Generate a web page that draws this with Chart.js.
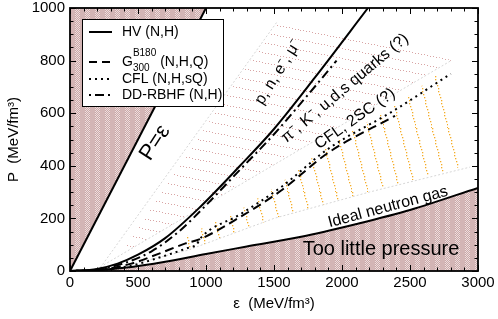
<!doctype html>
<html lang="en">
<head>
<meta charset="utf-8">
<title>EoS</title>
<script src="https://cdn.jsdelivr.net/npm/chart.js"></script>
<style>
  html, body { margin: 0; padding: 0; background: #fff; }
  #eos { display: block; }
</style>
</head>
<body>
<canvas id="eos" width="498" height="319"></canvas>
<script>
// energy density eps and pressure P, both in MeV/fm^3
const hvE  = [0, 200, 350, 500, 700, 950, 1250, 1500, 1800, 2191];
const hvP  = [0, 8, 28, 62, 125, 240, 400, 540, 735, 1000];
const gE   = [0, 250, 450, 650, 850, 950, 1250, 1550, 1900, 2390];
const gP   = [0, 7, 28, 65, 105, 120, 205, 305, 450, 590];
const cflE = [0, 250, 450, 650, 880, 930, 960, 1250, 1550, 1900, 2375, 2800];
const cflP = [0, 5, 20, 50, 90, 100, 125, 215, 318, 465, 608, 750];
const ddE  = [0, 200, 400, 600, 800, 1000, 1250, 1500, 1750, 1960];
const ddP  = [0, 6, 30, 75, 150, 250, 385, 520, 670, 800];
const gasE = [0, 200, 400, 700, 1000, 1300, 1700, 2100, 2500, 3000];
const gasP = [0, 3, 12, 35, 65, 93, 130, 178, 232, 316];
const causalE = [0, 1000];
const causalP = [0, 1000];

// shaded bands (hadrons / quark matter) and their faint guide lines
const hadronE = [346, 1522, 2809, 346];
const hadronP = [53, 947, 802, 53];
const quarkE = [860, 1250, 1550, 1900, 2375, 2735, 2900, 2200, 1500, 860, 860];
const quarkP = [135, 232, 335, 480, 625, 760, 400, 300, 200, 78, 135];
const guideLeftE = [205, 1522],  guideLeftP = [0, 947];
const guideMidE  = [172, 2809],  guideMidP  = [0, 802];
const guideLowE  = [250, 860, 1500, 2200, 2941], guideLowP = [0, 78, 200, 300, 395];

// annotations
const noteText = ['P=ε', 'p, n, e⁻, μ⁻', 'π⁻, K⁻, u,d,s quarks (?)', 'CFL, 2SC (?)', 'Ideal neutron gas', 'Too little pressure'];
const noteE = [625, 1530, 2022, 2096, 2338, 2287];
const noteP = [487, 755, 695, 578, 243, 80];

const FONT = '"Liberation Sans", Arial, Helvetica, sans-serif';
const noteStyle = [
  {size: 22, rot: -57}, {size: 16, rot: -58}, {size: 16, rot: -40},
  {size: 16, rot: -35}, {size: 16, rot: -15}, {size: 20, rot: 0}
];

const canvas = document.getElementById('eos');
const ctx0 = canvas.getContext('2d');

function makeTile(w, h, draw) {
  const c = document.createElement('canvas');
  c.width = w; c.height = h;
  draw(c.getContext('2d'));
  return ctx0.createPattern(c, 'repeat');
}

// checkered rose stripes for the excluded regions
const checker = makeTile(10, 2, g => {
  for (let i = 0; i < 10; i++) {
    for (let j = 0; j < 2; j++) {
      if (i < 5) g.fillStyle = '#d3b5b5';
      else g.fillStyle = (i + j) % 2 ? '#cba7a7' : '#eddede';
      g.fillRect(i, j, 1, 1);
    }
  }
});
// pink dotted slanted hatching
const pinkHatch = makeTile(50, 10, g => {
  g.fillStyle = '#d9a4a4';
  for (let t = 0; t < 50; t += 3) g.fillRect(t, Math.floor(t * 10 / 50), 1, 1);
});
// orange dotted steep hatching
const orangeHatch = makeTile(16, 64, g => {
  g.fillStyle = '#f5ad28';
  for (let t = 0; t < 64; t += 3) g.fillRect(Math.floor(t * 16 / 64), t, 1.3, 1.3);
});

const pts = (xs, ys) => xs.map((v, i) => ({x: v, y: ys[i]}));

function curve(label, xs, ys, dash) {
  return {
    label: label, data: pts(xs, ys), borderColor: '#000', borderWidth: 2,
    borderDash: dash, fill: false, cubicInterpolationMode: 'monotone', order: 1
  };
}
function guide(xs, ys) {
  return { data: pts(xs, ys), borderColor: '#d6d6d6', borderWidth: 1, borderDash: [2, 2], fill: false, order: 7 };
}

const legendRows = [
  {text: 'HV (N,H)', dash: [], y: 32},
  {text: 'G', sup: 'B180', sub: '300', rest: ' (N,H,Q)', dash: [8, 5], y: 62},
  {text: 'CFL (N,H,sQ)', dash: [2, 4], y: 79},
  {text: 'DD-RBHF (N,H)', dash: [2, 4, 9, 4], y: 95}
];

const decor = {
  id: 'decor',
  afterDatasetsDraw(chart) {
    const {ctx, chartArea: a, scales: {x, y}} = chart;
    ctx.save();
    ctx.fillStyle = '#000';
    ctx.textAlign = 'center';
    ctx.textBaseline = 'middle';
    noteText.forEach((t, i) => {
      ctx.save();
      ctx.translate(x.getPixelForValue(noteE[i]), y.getPixelForValue(noteP[i]));
      ctx.rotate(noteStyle[i].rot * Math.PI / 180);
      ctx.font = noteStyle[i].size + 'px ' + FONT;
      ctx.fillText(t, 0, 0);
      ctx.restore();
    });

    // frame and inward ticks on all sides
    ctx.strokeStyle = '#000';
    ctx.lineWidth = 1.8;
    ctx.strokeRect(a.left, a.top, a.right - a.left, a.bottom - a.top);
    ctx.lineWidth = 1;
    ctx.beginPath();
    for (let v = 0; v <= 3000; v += 100) {
      const px = Math.round(x.getPixelForValue(v)) + 0.5;
      const len = v % 500 === 0 ? 6 : 3.5;
      ctx.moveTo(px, a.bottom); ctx.lineTo(px, a.bottom - len);
      ctx.moveTo(px, a.top); ctx.lineTo(px, a.top + len);
    }
    for (let v = 0; v <= 1000; v += 50) {
      const py = Math.round(y.getPixelForValue(v)) + 0.5;
      const len = v % 200 === 0 ? 6 : 3.5;
      ctx.moveTo(a.left, py); ctx.lineTo(a.left + len, py);
      ctx.moveTo(a.right, py); ctx.lineTo(a.right - len, py);
    }
    ctx.stroke();
    ctx.restore();
  },
  afterDraw(chart) {
    const {ctx, chartArea: a} = chart;
    const bx = a.left + 12, by = a.top + 11, bw = 141, bh = 87;
    ctx.save();
    ctx.fillStyle = '#fff';
    ctx.fillRect(bx, by, bw, bh);
    ctx.strokeStyle = '#000';
    ctx.lineWidth = 1;
    ctx.strokeRect(bx + 0.5, by + 0.5, bw, bh);
    ctx.textBaseline = 'middle';
    ctx.textAlign = 'left';
    ctx.fillStyle = '#000';
    legendRows.forEach(r => {
      ctx.lineWidth = 2;
      ctx.setLineDash(r.dash);
      ctx.beginPath();
      ctx.moveTo(bx + 7, r.y);
      ctx.lineTo(bx + 30, r.y);
      ctx.stroke();
      ctx.setLineDash([]);
      let tx = bx + 40;
      ctx.font = '14px ' + FONT;
      ctx.fillText(r.text, tx, r.y);
      if (r.sup) {
        tx += ctx.measureText(r.text).width;
        ctx.font = '10px ' + FONT;
        ctx.fillText(r.sup, tx, r.y - 9);
        ctx.fillText(r.sub, tx, r.y + 6);
        const w = Math.max(ctx.measureText(r.sup).width, ctx.measureText(r.sub).width);
        ctx.font = '14px ' + FONT;
        ctx.fillText(r.rest, tx + w, r.y);
      }
    });
    ctx.restore();
  }
};

new Chart(canvas, {
  type: 'line',
  data: {
    datasets: [
      { data: pts(causalE, causalP), borderColor: '#000', borderWidth: 2, fill: 'end', backgroundColor: checker, order: 5 },
      { data: pts(gasE, gasP), borderColor: '#000', borderWidth: 2, fill: 'origin', backgroundColor: checker, cubicInterpolationMode: 'monotone', order: 5 },
      { data: pts(hadronE, hadronP), borderColor: 'rgba(0,0,0,0)', borderWidth: 0, fill: 'shape', backgroundColor: pinkHatch, order: 8 },
      { data: pts(quarkE, quarkP), borderColor: 'rgba(0,0,0,0)', borderWidth: 0, fill: 'shape', backgroundColor: orangeHatch, order: 8 },
      guide(guideLeftE, guideLeftP),
      guide(guideMidE, guideMidP),
      guide(guideLowE, guideLowP),
      curve('HV (N,H)', hvE, hvP, []),
      curve('G300 (N,H,Q)', gE, gP, [9, 5]),
      curve('CFL (N,H,sQ)', cflE, cflP, [2, 4]),
      curve('DD-RBHF (N,H)', ddE, ddP, [2, 4, 9, 4])
    ]
  },
  options: {
    responsive: false,
    animation: false,
    devicePixelRatio: 1,
    layout: { padding: { top: 8, right: 20, bottom: 0, left: 0 } },
    elements: { point: { radius: 0 }, line: { tension: 0 } },
    plugins: { legend: { display: false }, tooltip: { enabled: false } },
    scales: {
      x: {
        type: 'linear', min: 0, max: 3000,
        afterFit: s => { s.height = 48; s.paddingLeft = 0; s.paddingRight = 0; },
        grid: { display: false, drawTicks: false },
        border: { display: false },
        ticks: { stepSize: 500, padding: 3, maxRotation: 0, color: '#000', font: { size: 15, family: FONT },
                 callback: v => String(v) },
        title: { display: true, text: 'ε  (MeV/fm³)', color: '#000', font: { size: 15, family: FONT }, padding: { top: 0, bottom: 6 } }
      },
      y: {
        type: 'linear', min: 0, max: 1000,
        afterFit: s => { s.width = 70; s.paddingTop = 0; s.paddingBottom = 0; },
        grid: { display: false, drawTicks: false },
        border: { display: false },
        ticks: { stepSize: 200, padding: 5, color: '#000', font: { size: 15, family: FONT },
                 callback: v => String(v) },
        title: { display: true, text: 'P  (MeV/fm³)', color: '#000', font: { size: 15, family: FONT }, padding: { top: 5, bottom: 0 } }
      }
    }
  },
  plugins: [decor]
});
</script>
</body>
</html>
